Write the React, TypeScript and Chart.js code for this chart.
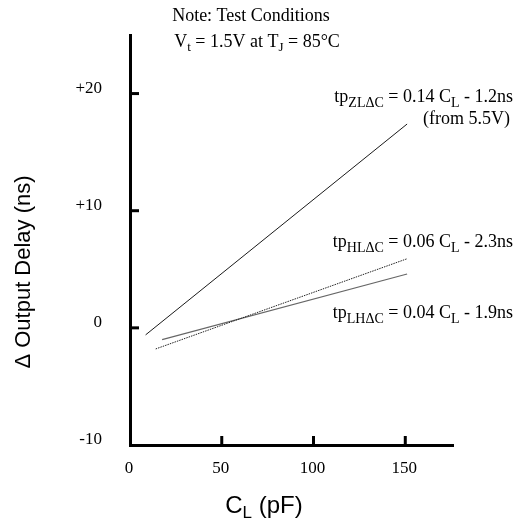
import React, { useEffect, useRef } from "react";
import { Chart, registerables } from "chart.js";

Chart.register(...registerables);

// ---- axis ranges & ticks ----
const X_MIN = 0;
const X_MAX = 176;
const Y_MIN = -10;
const Y_MAX = 25;
const xTicks = [0, 50, 100, 150];
const xTickLabels = ["0", "50", "100", "150"];
const yTicks = [-10, 0, 10, 20];
const yTickLabels = ["-10", "0", "+10", "+20"];

// ---- series (CL in pF, delta delay in ns) ----
const zlX = [8.5, 151];
const zlY = [-0.6, 17.4];
const hlX = [14, 151];
const hlY = [-1.8, 5.9];
const lhX = [17.5, 151];
const lhY = [-1.0, 4.6];

const SERIF = "'Liberation Serif', 'Times New Roman', serif";
const SANS = "'Liberation Sans', Arial, sans-serif";

type Part = [string, boolean];

function drawRich(
  ctx: CanvasRenderingContext2D,
  parts: Part[],
  x: number,
  y: number,
  align: "left" | "right" | "center",
  size: number,
  subSize: number,
  subDy: number,
  family: string
) {
  ctx.textAlign = "left";
  ctx.textBaseline = "alphabetic";
  const widths = parts.map(([t, s]) => {
    ctx.font = `${s ? subSize : size}px ${family}`;
    return ctx.measureText(t).width;
  });
  const total = widths.reduce((a, b) => a + b, 0);
  let cx = align === "right" ? x - total : align === "center" ? x - total / 2 : x;
  parts.forEach(([t, s], i) => {
    ctx.font = `${s ? subSize : size}px ${family}`;
    ctx.fillText(t, cx, s ? y + subDy : y);
    cx += widths[i];
  });
}

const decorPlugin = {
  id: "decor",
  afterDraw(chart: any) {
    const ctx: CanvasRenderingContext2D = chart.ctx;
    const xs = chart.scales.x;
    const ys = chart.scales.y;
    const { left, bottom } = chart.chartArea;
    ctx.save();
    // inward tick marks
    ctx.strokeStyle = "#000";
    ctx.lineWidth = 3;
    xTicks.forEach((v) => {
      if (v === X_MIN) return;
      const px = xs.getPixelForValue(v);
      ctx.beginPath();
      ctx.moveTo(px, bottom);
      ctx.lineTo(px, bottom - 9);
      ctx.stroke();
    });
    yTicks.forEach((v) => {
      if (v === Y_MIN) return;
      const py = ys.getPixelForValue(v);
      ctx.beginPath();
      ctx.moveTo(left, py);
      ctx.lineTo(left + 9, py);
      ctx.stroke();
    });
    // tick labels
    ctx.fillStyle = "#000";
    ctx.font = `17px ${SERIF}`;
    ctx.textBaseline = "middle";
    ctx.textAlign = "right";
    yTicks.forEach((v, i) => {
      const py = ys.getPixelForValue(v);
      ctx.fillText(yTickLabels[i], left - 28, py - 5);
    });
    ctx.textAlign = "center";
    ctx.textBaseline = "top";
    xTicks.forEach((v, i) => {
      const px = xs.getPixelForValue(v);
      ctx.fillText(xTickLabels[i], px - 1, bottom + 15);
    });

    // axis titles
    ctx.fillStyle = "#000";
    drawRich(ctx, [["C", false], ["L", true], [" (pF)", false]], 264, 513, "center", 24, 17, 5, SANS);
    ctx.save();
    ctx.translate(24, 272);
    ctx.rotate(-Math.PI / 2);
    ctx.font = `22px ${SANS}`;
    ctx.textAlign = "center";
    ctx.textBaseline = "middle";
    ctx.fillText("\u0394 Output Delay (ns)", 0, 0);
    ctx.restore();

    // notes
    drawRich(ctx, [["Note: Test Conditions", false]], 251, 21, "center", 18, 13, 4, SERIF);
    drawRich(
      ctx,
      [["V", false], ["t", true], [" = 1.5V at T", false], ["J", true], [" = 85\u00b0C", false]],
      257,
      47,
      "center",
      18,
      13,
      4,
      SERIF
    );

    // equations
    const eqX = 513;
    drawRich(
      ctx,
      [["tp", false], ["ZL\u0394C", true], [" = 0.14 C", false], ["L", true], [" - 1.2ns", false]],
      eqX,
      102,
      "right",
      18,
      14,
      5,
      SERIF
    );
    drawRich(ctx, [["(from 5.5V)", false]], 510, 124, "right", 18, 13, 4, SERIF);
    drawRich(
      ctx,
      [["tp", false], ["HL\u0394C", true], [" = 0.06 C", false], ["L", true], [" - 2.3ns", false]],
      eqX,
      247,
      "right",
      18,
      14,
      5,
      SERIF
    );
    drawRich(
      ctx,
      [["tp", false], ["LH\u0394C", true], [" = 0.04 C", false], ["L", true], [" - 1.9ns", false]],
      eqX,
      318,
      "right",
      18,
      14,
      5,
      SERIF
    );
    ctx.restore();
  },
};

function pts(xs: number[], ys: number[]) {
  return xs.map((x, i) => ({ x, y: ys[i] }));
}

export default function App() {
  const ref = useRef<HTMLCanvasElement | null>(null);
  useEffect(() => {
    if (!ref.current) return;
    const chart = new Chart(ref.current, {
      type: "scatter",
      data: {
        datasets: [
          {
            data: pts(zlX, zlY),
            showLine: true,
            borderColor: "#1a1a1a",
            borderWidth: 1,
            pointRadius: 0,
          },
          {
            data: pts(hlX, hlY),
            showLine: true,
            borderColor: "#222",
            borderWidth: 1,
            borderDash: [1.5, 1],
            pointRadius: 0,
          },
          {
            data: pts(lhX, lhY),
            showLine: true,
            borderColor: "#666",
            borderWidth: 1.2,
            pointRadius: 0,
          },
        ],
      } as any,
      options: {
        animation: false,
        responsive: true,
        maintainAspectRatio: false,
        layout: { padding: { left: 130, right: 65, top: 35, bottom: 77 } },
        plugins: { legend: { display: false }, tooltip: { enabled: false } },
        scales: {
          x: {
            type: "linear",
            min: X_MIN,
            max: X_MAX,
            ticks: { display: false },
            grid: { display: false, drawTicks: false },
            border: { display: true, color: "#000", width: 3 },
          },
          y: {
            type: "linear",
            min: Y_MIN,
            max: Y_MAX,
            ticks: { display: false },
            grid: { display: false, drawTicks: false },
            border: { display: true, color: "#000", width: 3 },
          },
        },
      } as any,
      plugins: [decorPlugin],
    });
    return () => chart.destroy();
  }, []);
  return (
    <div style={{ position: "absolute", left: 0, top: 0, width: 518, height: 522, background: "#fff" }}>
      <canvas ref={ref} />
    </div>
  );
}
